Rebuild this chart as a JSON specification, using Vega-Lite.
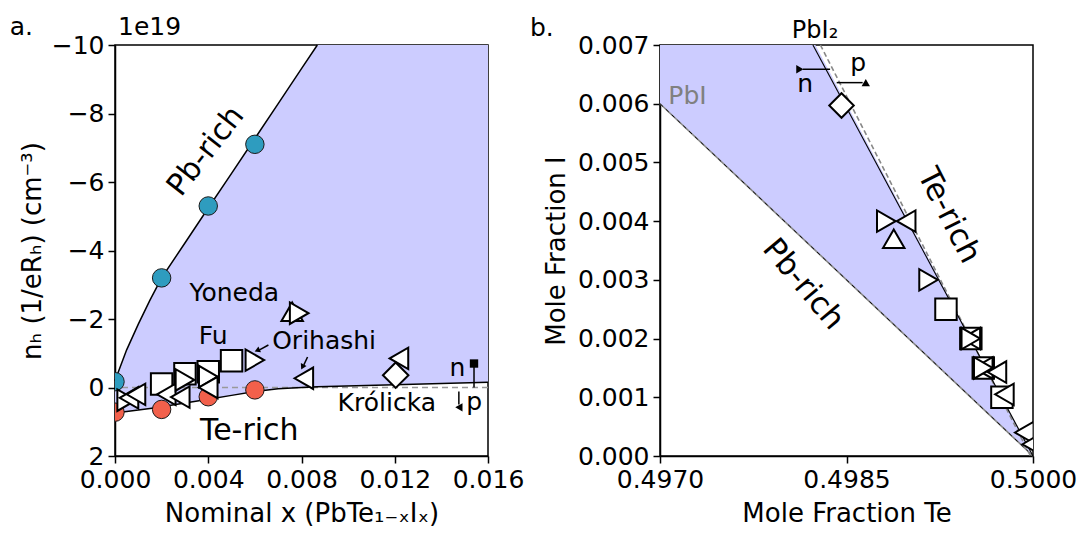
{
  "$schema": "https://vega.github.io/schema/vega-lite/v6.json",
  "background": "white",
  "padding": {"left": 8, "top": 14, "right": 5, "bottom": 5},
  "bounds": "flush",
  "spacing": 172,
  "config": {
    "font": "DejaVu Sans",
    "view": {"stroke": "black", "strokeWidth": 1.5},
    "axis": {
      "domainColor": "black", "domainWidth": 1.5, "tickColor": "black", "tickWidth": 1.5, "tickSize": 7,
      "labelFont": "DejaVu Sans", "labelFontSize": 25, "labelColor": "black", "labelPadding": 4,
      "labelFlush": false, "labelOverlap": false, "labelBound": false,
      "titleFont": "DejaVu Sans", "titleFontSize": 26, "titleFontWeight": "normal", "titleColor": "black",
      "grid": false
    }
  },
  "datasets": {
    "a_band": [
      {"x": 0, "lo": 0.74, "hi": -0.2},
      {"x": 0.0005, "lo": 0.7, "hi": -1.1},
      {"x": 0.001, "lo": 0.66, "hi": -1.85},
      {"x": 0.0015, "lo": 0.61, "hi": -2.55},
      {"x": 0.002, "lo": 0.56, "hi": -3.2},
      {"x": 0.003, "lo": 0.45, "hi": -4.22},
      {"x": 0.004, "lo": 0.34, "hi": -5.24},
      {"x": 0.005, "lo": 0.23, "hi": -6.25},
      {"x": 0.006, "lo": 0.12, "hi": -7.27},
      {"x": 0.007, "lo": 0.04, "hi": -8.29},
      {"x": 0.008, "lo": 0.0, "hi": -9.31},
      {"x": 0.00868, "lo": -0.02, "hi": -10},
      {"x": 0.012, "lo": -0.08, "hi": -10},
      {"x": 0.016, "lo": -0.15, "hi": -10}
    ],
    "a_circ": [
      {"x": 0, "y": -0.17, "g": "Pb-rich"},
      {"x": 0.002, "y": -3.2, "g": "Pb-rich"},
      {"x": 0.004, "y": -5.3, "g": "Pb-rich"},
      {"x": 0.006, "y": -7.1, "g": "Pb-rich"},
      {"x": 0, "y": 0.72, "g": "Te-rich"},
      {"x": 0.002, "y": 0.64, "g": "Te-rich"},
      {"x": 0.004, "y": 0.27, "g": "Te-rich"},
      {"x": 0.006, "y": 0.07, "g": "Te-rich"}
    ],
    "a_mark": [
      {"x": 0.0005, "y": 0.37, "m": "triangle-right"},
      {"x": 0.0006, "y": 0.3, "m": "triangle-left"},
      {"x": 0.0009, "y": 0.2, "m": "triangle-left"},
      {"x": 0.002, "y": -0.1, "m": "square"},
      {"x": 0.0022, "y": 0.2, "m": "triangle-left"},
      {"x": 0.0028, "y": 0.28, "m": "triangle-left"},
      {"x": 0.003, "y": -0.4, "m": "square"},
      {"x": 0.003, "y": -0.22, "m": "triangle-right"},
      {"x": 0.004, "y": -0.46, "m": "square"},
      {"x": 0.004, "y": -0.32, "m": "triangle-right"},
      {"x": 0.004, "y": 0.0, "m": "triangle-left"},
      {"x": 0.005, "y": -0.78, "m": "square"},
      {"x": 0.006, "y": -0.8, "m": "triangle-right"},
      {"x": 0.0076, "y": -2.21, "m": "triangle-up"},
      {"x": 0.0079, "y": -2.17, "m": "triangle-right"},
      {"x": 0.0081, "y": -0.27, "m": "triangle-left"},
      {"x": 0.01218, "y": -0.85, "m": "triangle-left"},
      {"x": 0.01204, "y": -0.36, "m": "diamond"}
    ],
    "b_mark": [
      {"te": 0.49846, "i": 0.00597, "m": "diamond"},
      {"te": 0.49882, "i": 0.004, "m": "triangle-right"},
      {"te": 0.49898, "i": 0.004, "m": "triangle-left"},
      {"te": 0.49888, "i": 0.0037, "m": "triangle-up"},
      {"te": 0.49916, "i": 0.003, "m": "triangle-right"},
      {"te": 0.4993, "i": 0.0025, "m": "square"},
      {"te": 0.4995, "i": 0.002, "m": "square"},
      {"te": 0.4995, "i": 0.002, "m": "triangle-left"},
      {"te": 0.4995, "i": 0.002, "m": "triangle-right"},
      {"te": 0.4996, "i": 0.0015, "m": "square"},
      {"te": 0.4996, "i": 0.0015, "m": "triangle-left"},
      {"te": 0.4996, "i": 0.0015, "m": "triangle-right"},
      {"te": 0.49971, "i": 0.00143, "m": "triangle-left"},
      {"te": 0.49975, "i": 0.001, "m": "square"},
      {"te": 0.49977, "i": 0.00105, "m": "triangle-left"},
      {"te": 0.49993, "i": 0.0004, "m": "triangle-left"},
      {"te": 0.49999, "i": 0.0002, "m": "triangle-left"}
    ]
  },
  "hconcat": [
    {
      "width": 373,
      "height": 411,
      "layer": [
        {
          "data": {"name": "a_band"},
          "mark": {"type": "area", "color": "#ccccff", "opacity": 1},
          "encoding": {
            "x": {"field": "x", "type": "quantitative",
              "scale": {"domain": [0, 0.016], "nice": false, "zero": false},
              "axis": {"values": [0, 0.004, 0.008, 0.012, 0.016], "format": ".3f", "title": "Nominal x (PbTe₁₋ₓIₓ)", "titlePadding": 8}},
            "y": {"field": "lo", "type": "quantitative",
              "scale": {"domain": [-10, 2], "reverse": true, "nice": false, "zero": false},
              "axis": {"values": [-10, -9, -8, -7, -6, -5, -4, -3, -2, -1, 0, 1, 2], "labelExpr": "datum.value % 2 == 0 ? datum.label : ''", "title": "nₕ (1/eRₕ) (cm⁻³)", "titlePadding": 6}},
            "y2": {"field": "hi"}
          }
        },
        {
          "data": {"values": [{}]},
          "mark": {"type": "rule", "color": "#999999", "strokeDash": [6, 4], "strokeWidth": 1.5},
          "encoding": {"y": {"datum": 0, "type": "quantitative"}}
        },
        {
          "data": {"name": "a_band"},
          "transform": [{"filter": "datum.x <= 0.00868"}],
          "mark": {"type": "line", "color": "black", "strokeWidth": 1.5},
          "encoding": {"x": {"field": "x", "type": "quantitative"}, "y": {"field": "hi", "type": "quantitative"}}
        },
        {
          "data": {"name": "a_band"},
          "mark": {"type": "line", "color": "black", "strokeWidth": 1.5},
          "encoding": {"x": {"field": "x", "type": "quantitative"}, "y": {"field": "lo", "type": "quantitative"}}
        },
        {
          "data": {"name": "a_circ"},
          "mark": {"type": "point", "shape": "circle", "filled": true, "size": 340, "stroke": "#1a1a1a", "strokeWidth": 1, "opacity": 1, "clip": true},
          "encoding": {
            "x": {"field": "x", "type": "quantitative"},
            "y": {"field": "y", "type": "quantitative"},
            "fill": {"field": "g", "type": "nominal", "scale": {"domain": ["Pb-rich", "Te-rich"], "range": ["#2e9cbf", "#f2604b"]}, "legend": null}
          }
        },
        {
          "data": {"name": "a_mark"},
          "transform": [{"filter": "datum.m != 'diamond'"}],
          "mark": {"type": "point", "filled": true, "fill": "white", "stroke": "black", "strokeWidth": 2, "size": 460, "opacity": 1, "clip": true},
          "encoding": {
            "x": {"field": "x", "type": "quantitative"},
            "y": {"field": "y", "type": "quantitative"},
            "shape": {"field": "m", "type": "nominal", "scale": {"domain": ["square", "triangle-left", "triangle-right", "triangle-up"], "range": ["square", "triangle-left", "triangle-right", "triangle-up"]}, "legend": null}
          }
        },
        {
          "data": {"name": "a_mark"},
          "transform": [{"filter": "datum.m == 'diamond'"}],
          "mark": {"type": "point", "shape": "diamond", "filled": true, "fill": "white", "stroke": "black", "strokeWidth": 2, "size": 650, "opacity": 1, "clip": true},
          "encoding": {
            "x": {"field": "x", "type": "quantitative"},
            "y": {"field": "y", "type": "quantitative"}
          }
        },
        {
          "data": {"values": [
            {"x": 0.0154, "y": 0, "x2": 0.0154, "y2": -0.62},
            {"x": 0.01475, "y": 0.12, "x2": 0.01475, "y2": 0.5},
            {"x": 0.00658, "y": -1.24, "x2": 0.0062, "y2": -1.1},
            {"x": 0.00826, "y": -0.89, "x2": 0.0081, "y2": -0.66}
          ]},
          "mark": {"type": "rule", "color": "black", "strokeWidth": 1.5},
          "encoding": {
            "x": {"field": "x", "type": "quantitative"}, "y": {"field": "y", "type": "quantitative"},
            "x2": {"field": "x2"}, "y2": {"field": "y2"}
          }
        },
        {
          "data": {"values": [
            {"x": 0.0154, "y": -0.7, "d": "up"},
            {"x": 0.01475, "y": 0.58, "d": "down"}
          ]},
          "mark": {"type": "point", "filled": true, "color": "black", "size": 70, "opacity": 1},
          "encoding": {
            "x": {"field": "x", "type": "quantitative"}, "y": {"field": "y", "type": "quantitative"},
            "shape": {"field": "d", "type": "nominal", "scale": {"domain": ["up", "down"], "range": ["triangle-up", "triangle-down"]}, "legend": null}
          }
        },
        {
          "data": {"values": [{"x": 0.0061, "y": -1.08}]},
          "mark": {"type": "point", "shape": "triangle-up", "filled": true, "color": "black", "size": 40, "opacity": 1, "angle": 246},
          "encoding": {"x": {"field": "x", "type": "quantitative"}, "y": {"field": "y", "type": "quantitative"}}
        },
        {
          "data": {"values": [{"x": 0.00804, "y": -0.6}]},
          "mark": {"type": "point", "shape": "triangle-up", "filled": true, "color": "black", "size": 40, "opacity": 1, "angle": 207},
          "encoding": {"x": {"field": "x", "type": "quantitative"}, "y": {"field": "y", "type": "quantitative"}}
        },
        {
          "data": {"values": [
            {"x": 0.00512, "y": -2.76, "t": "Yoneda"},
            {"x": 0.00421, "y": -1.5, "t": "Fu"},
            {"x": 0.00897, "y": -1.36, "t": "Orihashi"},
            {"x": 0.01166, "y": 0.45, "t": "Królicka"},
            {"x": 0.01469, "y": -0.56, "t": "n"},
            {"x": 0.01541, "y": 0.41, "t": "p"}
          ]},
          "mark": {"type": "text", "fontSize": 25, "align": "center", "baseline": "middle", "color": "black"},
          "encoding": {"x": {"field": "x", "type": "quantitative"}, "y": {"field": "y", "type": "quantitative"}, "text": {"field": "t"}}
        },
        {
          "data": {"values": [{"x": 0.00576, "y": 1.27, "t": "Te-rich"}]},
          "mark": {"type": "text", "fontSize": 30, "align": "center", "baseline": "middle", "color": "black"},
          "encoding": {"x": {"field": "x", "type": "quantitative"}, "y": {"field": "y", "type": "quantitative"}, "text": {"field": "t"}}
        },
        {
          "data": {"values": [{"x": 0.0039, "y": -6.9, "t": "Pb-rich"}]},
          "mark": {"type": "text", "fontSize": 30, "align": "center", "baseline": "middle", "angle": 308, "color": "black"},
          "encoding": {"x": {"field": "x", "type": "quantitative"}, "y": {"field": "y", "type": "quantitative"}, "text": {"field": "t"}}
        },
        {
          "data": {"values": [
            {"x": -0.004516, "y": -10.292, "t": "a."},
            {"x": 0.00013, "y": -10.292, "t": "1e19"}
          ]},
          "mark": {"type": "text", "fontSize": 25, "align": "left", "baseline": "alphabetic", "color": "black"},
          "encoding": {"x": {"field": "x", "type": "quantitative"}, "y": {"field": "y", "type": "quantitative"}, "text": {"field": "t"}}
        }
      ]
    },
    {
      "width": 373,
      "height": 411,
      "layer": [
        {
          "data": {"values": [
            {"i": 0, "xl": 0.5, "xr": 0.5},
            {"i": 0.006, "xl": 0.497, "xr": 0.4985},
            {"i": 0.007, "xl": 0.497, "xr": 0.49825}
          ]},
          "mark": {"type": "area", "orient": "horizontal", "color": "#ccccff", "opacity": 1},
          "encoding": {
            "y": {"field": "i", "type": "quantitative",
              "scale": {"domain": [0, 0.007], "nice": false, "zero": false},
              "axis": {"values": [0, 0.001, 0.002, 0.003, 0.004, 0.005, 0.006, 0.007], "format": ".3f", "title": "Mole Fraction I", "titlePadding": 8}},
            "x": {"field": "xl", "type": "quantitative",
              "scale": {"domain": [0.497, 0.5], "nice": false, "zero": false},
              "axis": {"values": [0.497, 0.4985, 0.5], "format": ".4f", "title": "Mole Fraction Te", "titlePadding": 8}},
            "x2": {"field": "xr"}
          }
        },
        {
          "data": {"values": [{"te": 0.497, "i": 0.006}, {"te": 0.5, "i": 0}]},
          "mark": {"type": "line", "color": "#888888", "strokeWidth": 1.6},
          "encoding": {"x": {"field": "te", "type": "quantitative"}, "y": {"field": "i", "type": "quantitative"}}
        },
        {
          "data": {"values": [{"te": 0.497, "i": 0.006}, {"te": 0.5, "i": 0}]},
          "mark": {"type": "line", "color": "black", "strokeWidth": 0.9, "strokeDash": [4, 4]},
          "encoding": {"x": {"field": "te", "type": "quantitative"}, "y": {"field": "i", "type": "quantitative"}}
        },
        {
          "data": {"values": [{"te": 0.49829, "i": 0.007}, {"te": 0.49998, "i": 0}]},
          "mark": {"type": "line", "color": "#888888", "strokeWidth": 1.6, "strokeDash": [5, 3]},
          "encoding": {"x": {"field": "te", "type": "quantitative"}, "y": {"field": "i", "type": "quantitative"}}
        },
        {
          "data": {"values": [{"te": 0.49823, "i": 0.007}, {"te": 0.5, "i": 0}]},
          "mark": {"type": "line", "color": "black", "strokeWidth": 1.1},
          "encoding": {"x": {"field": "te", "type": "quantitative"}, "y": {"field": "i", "type": "quantitative"}}
        },
        {
          "data": {"name": "b_mark"},
          "transform": [{"filter": "datum.m != 'diamond'"}],
          "mark": {"type": "point", "filled": true, "fill": "white", "stroke": "black", "strokeWidth": 2, "size": 460, "opacity": 1, "clip": true},
          "encoding": {
            "x": {"field": "te", "type": "quantitative"},
            "y": {"field": "i", "type": "quantitative"},
            "shape": {"field": "m", "type": "nominal", "scale": {"domain": ["square", "triangle-left", "triangle-right", "triangle-up"], "range": ["square", "triangle-left", "triangle-right", "triangle-up"]}, "legend": null}
          }
        },
        {
          "data": {"name": "b_mark"},
          "transform": [{"filter": "datum.m == 'diamond'"}],
          "mark": {"type": "point", "shape": "diamond", "filled": true, "fill": "white", "stroke": "black", "strokeWidth": 2, "size": 600, "opacity": 1, "clip": true},
          "encoding": {
            "x": {"field": "te", "type": "quantitative"},
            "y": {"field": "i", "type": "quantitative"}
          }
        },
        {
          "data": {"values": [
            {"x": 0.498368, "y": 0.006587, "x2": 0.49815, "y2": 0.006587},
            {"x": 0.498421, "y": 0.006359, "x2": 0.49863, "y2": 0.006359}
          ]},
          "mark": {"type": "rule", "color": "black", "strokeWidth": 1.5},
          "encoding": {
            "x": {"field": "x", "type": "quantitative"}, "y": {"field": "y", "type": "quantitative"},
            "x2": {"field": "x2"}, "y2": {"field": "y2"}
          }
        },
        {
          "data": {"values": [
            {"x": 0.498125, "y": 0.006587, "d": "left"},
            {"x": 0.498655, "y": 0.006359, "d": "right"}
          ]},
          "mark": {"type": "point", "filled": true, "color": "black", "size": 70, "opacity": 1},
          "encoding": {
            "x": {"field": "x", "type": "quantitative"}, "y": {"field": "y", "type": "quantitative"},
            "shape": {"field": "d", "type": "nominal", "scale": {"domain": ["left", "right"], "range": ["triangle-left", "triangle-right"]}, "legend": null}
          }
        },
        {
          "data": {"values": [
            {"x": 0.498167, "y": 0.00633, "t": "n"},
            {"x": 0.498595, "y": 0.0067, "t": "p"}
          ]},
          "mark": {"type": "text", "fontSize": 25, "align": "center", "baseline": "middle", "color": "black"},
          "encoding": {"x": {"field": "x", "type": "quantitative"}, "y": {"field": "y", "type": "quantitative"}, "text": {"field": "t"}}
        },
        {
          "data": {"values": [{"x": 0.498247, "y": 0.00724, "t": "PbI₂"}]},
          "mark": {"type": "text", "fontSize": 24, "align": "center", "baseline": "middle", "color": "black"},
          "encoding": {"x": {"field": "x", "type": "quantitative"}, "y": {"field": "y", "type": "quantitative"}, "text": {"field": "t"}}
        },
        {
          "data": {"values": [{"x": 0.497221, "y": 0.00613, "t": "PbI"}]},
          "mark": {"type": "text", "fontSize": 25, "align": "center", "baseline": "middle", "color": "#808080"},
          "encoding": {"x": {"field": "x", "type": "quantitative"}, "y": {"field": "y", "type": "quantitative"}, "text": {"field": "t"}}
        },
        {
          "data": {"values": [{"x": 0.49815, "y": 0.00292, "t": "Pb-rich"}]},
          "mark": {"type": "text", "fontSize": 31, "align": "center", "baseline": "middle", "angle": 50, "color": "black"},
          "encoding": {"x": {"field": "x", "type": "quantitative"}, "y": {"field": "y", "type": "quantitative"}, "text": {"field": "t"}}
        },
        {
          "data": {"values": [{"x": 0.49932, "y": 0.00409, "t": "Te-rich"}]},
          "mark": {"type": "text", "fontSize": 31, "align": "center", "baseline": "middle", "angle": 63, "color": "black"},
          "encoding": {"x": {"field": "x", "type": "quantitative"}, "y": {"field": "y", "type": "quantitative"}, "text": {"field": "t"}}
        },
        {
          "data": {"values": [{"x": 0.495954, "y": 0.007153, "t": "b."}]},
          "mark": {"type": "text", "fontSize": 25, "align": "left", "baseline": "alphabetic", "color": "black"},
          "encoding": {"x": {"field": "x", "type": "quantitative"}, "y": {"field": "y", "type": "quantitative"}, "text": {"field": "t"}}
        }
      ]
    }
  ]
}
